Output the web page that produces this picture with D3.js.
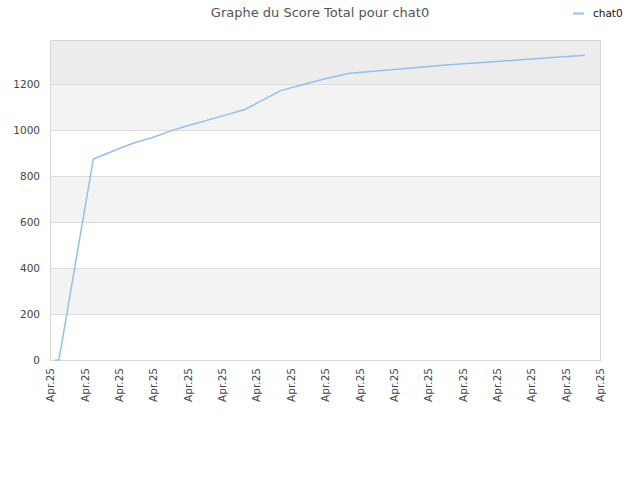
<!DOCTYPE html>
<html><head><meta charset="utf-8">
<script src="https://cdn.jsdelivr.net/npm/d3@7"></script>
<style>body{margin:0;background:#fff}svg{display:block;font-family:"DejaVu Sans",sans-serif}</style>
</head><body><div id="c"></div>
<script>
const title = "Graphe du Score Total pour chat0";
const seriesName = "chat0";
const xTickLabels = Array.from({length:17}, () => "Apr.25");
const xPos = [0.15, 0.26, 1.26, 2.0, 2.44, 3.0, 3.6, 4.0, 5.0, 5.67, 6.3, 6.69, 7.5, 8.0, 8.73, 10.0, 11.5, 13.0, 14.5, 15.56];
const scores = [0, 0, 875, 920, 945, 970, 1002, 1020, 1062, 1091, 1140, 1172, 1205, 1225, 1249, 1265, 1285, 1300, 1316, 1327];
const yTicks = [0, 200, 400, 600, 800, 1000, 1200];

const W = 640, H = 480, m = {l:50, r:40, t:40, b:120};
const svg = d3.select("#c").append("svg").attr("width", W).attr("height", H);
const x = d3.scaleLinear().domain([0, 16]).range([m.l, W - m.r]);
const yMax = d3.max(scores) * 1.05;
const y = d3.scaleLinear().domain([0, yMax]).range([H - m.b, m.t]);

// bands
const bounds = yTicks.concat([yMax]);
for (let i = 0; i < bounds.length - 1; i++) {
  let fill = i % 2 === 1 ? "#f3f3f3" : "#ffffff";
  if (i === bounds.length - 2) fill = "#ededed";
  svg.append("rect").attr("x", x(0)).attr("width", x(16) - x(0))
    .attr("y", y(bounds[i+1])).attr("height", y(bounds[i]) - y(bounds[i+1])).attr("fill", fill);
}
// grid
svg.append("g").selectAll("line").data(yTicks).join("line")
  .attr("x1", x(0)).attr("x2", x(16)).attr("y1", d => Math.round(y(d)) + 0.5).attr("y2", d => Math.round(y(d)) + 0.5)
  .attr("stroke", "#dddddd");
// border
svg.append("rect").attr("x", x(0) + 0.5).attr("y", y(yMax) + 0.5).attr("width", x(16) - x(0)).attr("height", y(0) - y(yMax))
  .attr("fill", "none").attr("stroke", "#d8d8d8");

// y axis
const ya = svg.append("g").attr("transform", `translate(${x(0)},0)`)
  .call(d3.axisLeft(y).tickValues(yTicks).tickFormat(d3.format("d")).tickSize(0).tickPadding(10));
ya.select(".domain").remove();
ya.selectAll("text").attr("font-size", 10.5).attr("fill", "#444").attr("font-family", "DejaVu Sans");

// x axis
const xa = svg.append("g").attr("transform", `translate(0,${y(0)})`)
  .call(d3.axisBottom(x).tickValues(d3.range(17)).tickFormat((d, i) => xTickLabels[i]).tickSize(0));
xa.select(".domain").remove();
xa.selectAll("text").attr("font-size", 10.5).attr("fill", "#444").attr("font-family", "DejaVu Sans")
  .attr("text-anchor", "end").attr("dy", "0.35em").attr("dx", 0)
  .attr("transform", "translate(0,8) rotate(-90)").attr("y", 0).attr("x", 0);

// line
const line = d3.line().x((d, i) => x(xPos[i])).y(d => y(d));
svg.append("path").datum(scores).attr("d", line).attr("fill", "none")
  .attr("stroke", "#92c1f1").attr("stroke-width", 1.5);

// title
svg.append("text").attr("x", 320).attr("y", 17).attr("text-anchor", "middle")
  .attr("font-size", 13).attr("fill", "#555").text(title);
// legend
svg.append("line").attr("x1", 573).attr("x2", 584).attr("y1", 13.5).attr("y2", 13.5)
  .attr("stroke", "#92c1f1").attr("stroke-width", 2);
svg.append("text").attr("x", 593).attr("y", 17).attr("font-size", 10.5).attr("fill", "#111").text(seriesName);
</script></body></html>
